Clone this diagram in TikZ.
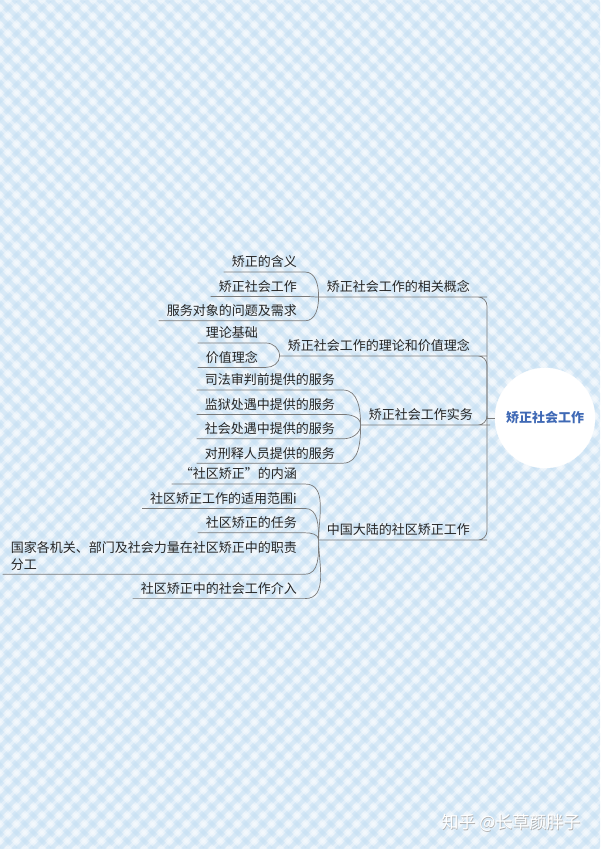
\documentclass[tikz,border=0pt]{standalone}
\usepackage{fontspec}
\setmainfont{Noto Sans CJK SC}
\usetikzlibrary{positioning}
\definecolor{bgblue}{HTML}{E6F1FA}
\definecolor{stripe}{HTML}{C4DFF3}
\definecolor{linegray}{HTML}{7A7A7A}
\definecolor{rootblue}{HTML}{3F69B5}
\definecolor{txt}{HTML}{262626}

\begin{document}
\begin{tikzpicture}[x=1pt, y=1pt, node distance=6pt and 0pt,
  topic/.style={inner xsep=8pt, inner ysep=2pt, text height=11pt, text depth=3pt, text=txt, font=\fontsize{13pt}{17pt}\selectfont},
  rootnode/.style={circle, fill=white, draw=white, minimum size=100pt, text=rootblue, font=\fontsize{13pt}{17pt}\selectfont\bfseries},
  link/.style={draw=linegray, line width=0.7pt},
  trunk/.style={link, rounded corners=9pt},
  wmark/.style={font=\fontsize{17pt}{19pt}\selectfont}]
\useasboundingbox (0,0) rectangle (600,-849);
\fill[bgblue] (0,0) rectangle (600,-849);
\begin{scope}
\clip (0,0) rectangle (600,-849);
\foreach \i in {-850,-833,...,600} {
  \draw[stripe, line width=4.5pt, opacity=0.5] (\i,0) -- ++(849,-849);
  \draw[stripe, line width=4.5pt, opacity=0.5] (\i+849,0) -- ++(-849,-849);
  \draw[white, line width=3pt, opacity=0.35] (\i+8.5,0) -- ++(849,-849);
  \draw[white, line width=3pt, opacity=0.35] (\i+857.5,0) -- ++(-849,-849);
}
\end{scope}

\node[rootnode] (root) at (545,-418) {矫正社会工作};
\coordinate (hub) at (487,-418);

\node[topic, anchor=south east] (b1) at (478,-297) {矫正社会工作的相关概念};
\node[topic, anchor=south east] (b2) at (478,-356) {矫正社会工作的理论和价值理念};
\node[topic, anchor=south east] (b3) at (481,-425) {矫正社会工作实务};
\node[topic, anchor=south east] (b4) at (478,-540) {中国大陆的社区矫正工作};

\node[topic, anchor=south east] (c11) at (305,-272) {矫正的含义};
\node[topic, below left=of c11.south east] (c12) {矫正社会工作};
\node[topic, below left=of c12.south east] (c13) {服务对象的问题及需求};

\node[topic, anchor=south east] (c21) at (266,-343) {理论基础};
\node[topic, below left=of c21.south east] (c22) {价值理念};

\node[topic, anchor=south east] (c31) at (343,-390) {司法审判前提供的服务};
\node[topic, below left=of c31.south east] (c32) {监狱处遇中提供的服务};
\node[topic, below left=of c32.south east] (c33) {社会处遇中提供的服务};
\node[topic, below left=of c33.south east] (c34) {对刑释人员提供的服务};

\node[topic, anchor=south east] (c41) at (305,-484) {“社区矫正”的内涵};
\node[topic, below left=of c41.south east] (c42) {社区矫正工作的适用范围i};
\node[topic, below left=of c42.south east] (c43) {社区矫正的任务};
\node[topic, text height=28pt, below left=of c43.south east] (c44) {\begin{tabular}[b]{@{}l@{}}国家各机关、部门及社会力量在社区矫正中的职责\\分工\end{tabular}};
\node[topic, below left=of c44.south east] (c45) {社区矫正中的社会工作介入};

\draw[link] (root) -- (hub);
\foreach \b in {b1,b2,b3,b4}
  \draw[trunk] (hub) |- (\b.south east) -- (\b.south west);

\foreach \c/\a in {c11/90, c12/180, c13/-90}
  \draw[link] (b1.south west) to[out=\a, in=0] (\c.south east) -- (\c.south west);
\foreach \c/\a in {c21/90, c22/-90}
  \draw[link] (b2.south west) to[out=\a, in=0] (\c.south east) -- (\c.south west);
\foreach \c/\a in {c31/90, c32/90, c33/-90, c34/-90}
  \draw[link] (b3.south west) to[out=\a, in=0] (\c.south east) -- (\c.south west);
\foreach \c/\a in {c41/90, c42/90, c43/90, c44/-90, c45/-90}
  \draw[link] (b4.south west) to[out=\a, in=0] (\c.south east) -- (\c.south west);

\node[wmark, text=gray!60] (wmshade) at (511.6,-823.6) {知乎 @长草颜胖子};
\node[wmark, text=white] (wm) at (511,-823) {知乎 @长草颜胖子};
\end{tikzpicture}
\end{document}
